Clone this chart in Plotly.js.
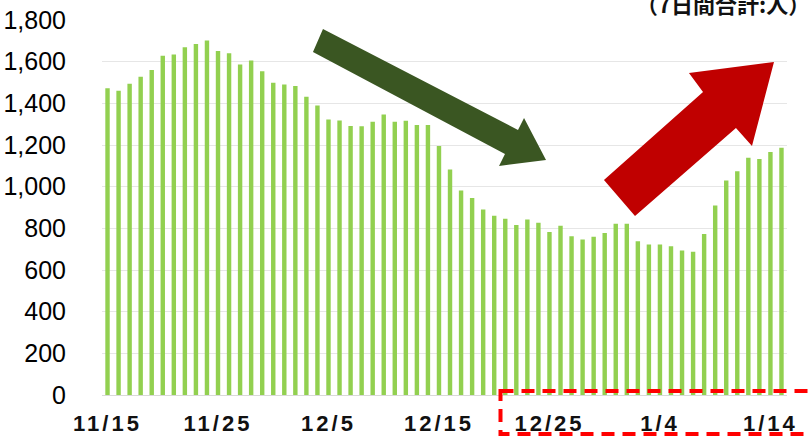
<!DOCTYPE html>
<html>
<head>
<meta charset="utf-8">
<script src="https://cdn.plot.ly/plotly-3.0.1.min.js"></script>
<style>
html,body{margin:0;padding:0;background:#fff;}
#chart{width:808px;height:436px;}
.xtick text{letter-spacing:3px;}
</style>
</head>
<body>
<div id="chart"></div>
<script>
// Dates (categories)
const dates = [
  "11/15","11/16","11/17","11/18","11/19","11/20","11/21","11/22","11/23","11/24",
  "11/25","11/26","11/27","11/28","11/29","11/30",
  "12/1","12/2","12/3","12/4","12/5","12/6","12/7","12/8","12/9","12/10",
  "12/11","12/12","12/13","12/14","12/15","12/16","12/17","12/18","12/19","12/20",
  "12/21","12/22","12/23","12/24","12/25","12/26","12/27","12/28","12/29","12/30","12/31",
  "1/1","1/2","1/3","1/4","1/5","1/6","1/7","1/8","1/9","1/10","1/11","1/12","1/13","1/14","1/15"
];
// 7-day totals (persons)
const totals = [
  1472,1461,1494,1528,1560,1629,1634,1669,1685,1702,
  1651,1640,1587,1606,1554,1499,
  1491,1483,1432,1390,1322,1318,1291,1290,1312,1347,
  1312,1317,1296,1296,1195,1083,982,946,891,861,
  846,816,843,827,782,813,762,747,760,778,822,
  822,738,722,722,714,694,688,773,910,1030,1074,1139,1133,1166,1187
];
const tickLabels = ["11/15","11/25","12/5","12/15","12/25","1/4","1/14"];
const yTicks = [0,200,400,600,800,1000,1200,1400,1600,1800];
const unitLabel = "（7日間合計:人）";

const W = 808, H = 436;
const mL = 102, mR = 21, mT = 20, mB = 41;
const pw = W - mL - mR, ph = H - mT - mB;
function px(x){ return (x - mL) / pw; }
function py(y){ return (H - mB - y) / ph; }
function poly(pts){
  return pts.map((p,i)=> (i?'L':'M') + px(p[0]).toFixed(4) + ',' + py(p[1]).toFixed(4)).join(' ') + ' Z';
}

const greenArrow = [[323,29],[518,130],[524,118],[546,160],[499,166],[505,154],[313,52]];
const redArrow = [[604,180],[703,92],[689,73],[774,62],[752,146],[736,128],[635,216]];

const trace = {
  type: 'bar',
  x: dates,
  y: totals,
  marker: {color: '#92D050', line: {width: 0}},
  hoverinfo: 'x+y'
};

const layout = {
  width: W, height: H,
  margin: {l: mL, r: mR, t: mT, b: mB, pad: 0},
  paper_bgcolor: '#ffffff',
  plot_bgcolor: '#ffffff',
  showlegend: false,
  bargap: 0.6,
  xaxis: {
    type: 'category',
    categoryorder: 'array',
    categoryarray: dates,
    range: [-0.5, dates.length - 0.5],
    tickmode: 'array',
    tickvals: tickLabels,
    ticktext: tickLabels,
    ticks: 'outside',
    ticklen: 9,
    tickcolor: 'rgba(0,0,0,0)',
    showgrid: false,
    showline: true,
    linecolor: '#d9d9d9',
    linewidth: 1,
    zeroline: false,
    tickfont: {family: '"Liberation Sans Narrow", "Arial Narrow", "Liberation Sans", Arial, sans-serif', size: 22, color: '#111111', weight: 'bold'}
  },
  yaxis: {
    range: [0, 1800],
    tickmode: 'array',
    tickvals: yTicks,
    ticktext: yTicks.map(v => v.toLocaleString('en-US')),
    ticks: 'outside',
    ticklen: 30,
    tickcolor: 'rgba(0,0,0,0)',
    showgrid: true,
    gridcolor: '#e6e6e6',
    gridwidth: 1,
    zeroline: false,
    showline: false,
    tickfont: {family: '"Liberation Sans", Arial, sans-serif', size: 25, color: '#000000'}
  },
  shapes: [
    {type: 'path', xref: 'paper', yref: 'paper', path: poly(greenArrow),
     fillcolor: '#3A5622', line: {width: 0}, layer: 'above'},
    {type: 'path', xref: 'paper', yref: 'paper', path: poly(redArrow),
     fillcolor: '#C00000', line: {width: 0}, layer: 'above'},
    {type: 'rect', xref: 'paper', yref: 'paper',
     x0: px(500.5), x1: px(830), y0: py(391), y1: py(434),
     line: {color: '#FF0000', width: 4, dash: '13px,8px'}, fillcolor: 'rgba(0,0,0,0)', layer: 'above'}
  ],
  annotations: [
    {xref: 'paper', yref: 'paper', x: px(812), y: py(3), xanchor: 'right', yanchor: 'middle',
     text: unitLabel, showarrow: false,
     font: {family: '"Noto Sans CJK JP", "Noto Sans", sans-serif', size: 22, color: '#111111', weight: 'bold'}}
  ]
};

Plotly.newPlot('chart', [trace], layout, {staticPlot: true, displayModeBar: false});
</script>
</body>
</html>
